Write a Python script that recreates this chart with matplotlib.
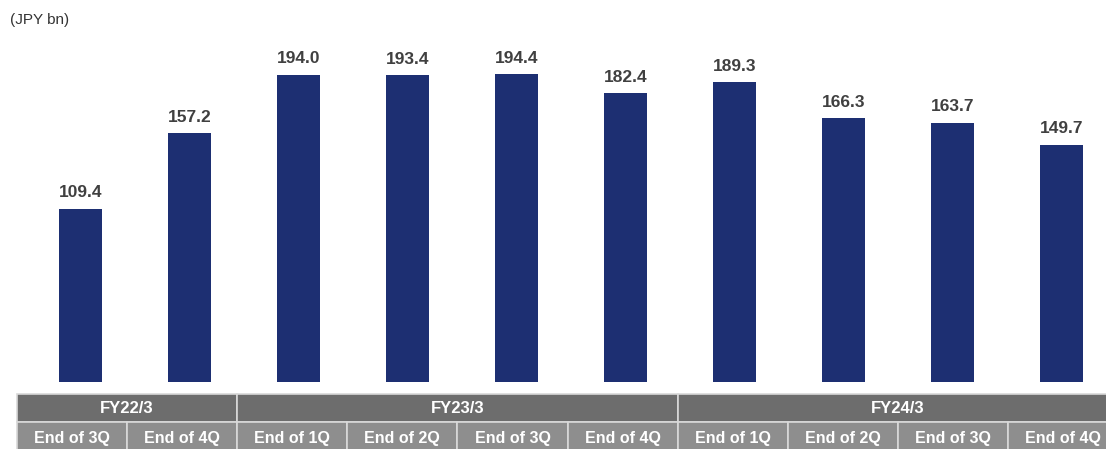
import matplotlib
matplotlib.use("Agg")
import matplotlib.pyplot as plt
from matplotlib.patches import Rectangle

plt.rcParams['font.family'] = ['Liberation Sans', 'DejaVu Sans']

quarters = ["End of 3Q", "End of 4Q", "End of 1Q", "End of 2Q", "End of 3Q",
            "End of 4Q", "End of 1Q", "End of 2Q", "End of 3Q", "End of 4Q"]
values = [109.4, 157.2, 194.0, 193.4, 194.4, 182.4, 189.3, 166.3, 163.7, 149.7]
years = ["FY22/3", "FY23/3", "FY24/3"]
year_spans = [2, 4, 4]

W, H = 1106, 449
fig = plt.figure(figsize=(W / 100, H / 100), dpi=100)
px_per_unit = 1.585
ax_bottom_px, ax_top_px = 382, 40
ymax = (ax_bottom_px - ax_top_px) / px_per_unit

# bar axes
bl, br = 26, 1116
ax = fig.add_axes([bl / W, (H - ax_bottom_px) / H,
                   (br - bl) / W, (ax_bottom_px - ax_top_px) / H])
ax.set_xlim(-0.5, len(values) - 0.5)
ax.set_ylim(0, ymax)
ax.axis('off')

bar_color = "#1d2f72"
xs = list(range(len(values)))
ax.bar(xs, values, width=0.4, color=bar_color)
for x, v in zip(xs, values):
    ax.annotate(f"{v:.1f}", (x, v), xytext=(0, 6), textcoords="offset points",
                ha="center", va="bottom", fontsize=12.5, fontweight="bold", color="#404040")

# table axes
tl, tr = 17, 1118
tb_top, tb_bot = 394, 460
tax = fig.add_axes([tl / W, (H - tb_bot) / H, (tr - tl) / W, (tb_bot - tb_top) / H])
tax.set_xlim(0, len(values))
tax.set_ylim(tb_bot, tb_top)
tax.axis('off')

r1_top, r1_bot = 394, 422
r2_top, r2_bot = 422, 460
start = 0
for yr, span in zip(years, year_spans):
    tax.add_patch(Rectangle((start, r1_top), span, r1_bot - r1_top, facecolor="#6d6d6d",
                            edgecolor="#d9d9d9", linewidth=1.2, clip_on=False))
    tax.text(start + span / 2, 408.5, yr, ha="center", va="center",
             color="white", fontsize=12, fontweight="bold", clip_on=False)
    start += span
for i, q in enumerate(quarters):
    tax.add_patch(Rectangle((i, r2_top), 1, r2_bot - r2_top, facecolor="#8e8e8e",
                            edgecolor="#d9d9d9", linewidth=1.2, clip_on=False))
    tax.text(i + 0.5, 438, q, ha="center", va="center",
             color="white", fontsize=11.5, fontweight="bold", clip_on=False)

fig.text(10 / W, 1 - 20 / H, "(JPY bn)", ha="left", va="center", fontsize=11, color="#333333")

fig.savefig("out.png", dpi=100)
